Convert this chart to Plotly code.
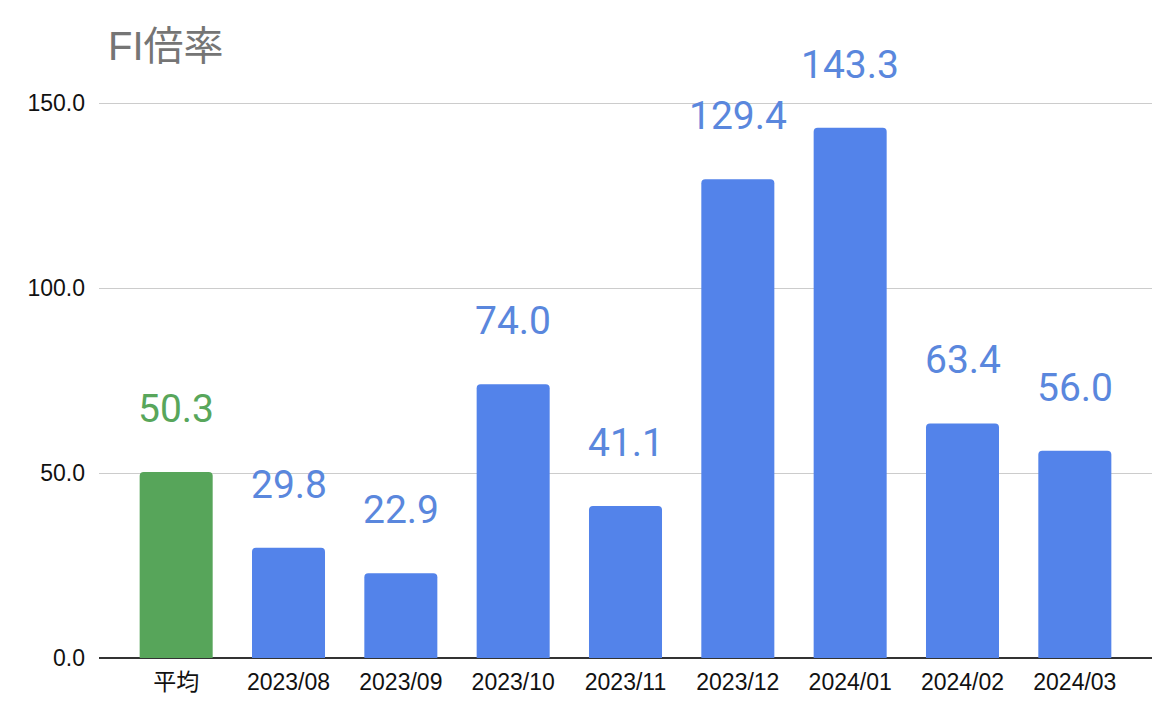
import plotly.graph_objects as go

categories = ["平均", "2023/08", "2023/09", "2023/10", "2023/11", "2023/12", "2024/01", "2024/02", "2024/03"]
values = [50.3, 29.8, 22.9, 74.0, 41.1, 129.4, 143.3, 63.4, 56.0]
y_ticks = [0, 50, 100, 150]
y_tick_labels = ["0.0", "50.0", "100.0", "150.0"]

BLUE = "#5383EA"
GREEN = "#57A55A"
bar_colors = [GREEN if c == "平均" else BLUE for c in categories]
label_colors = ["#58A65B" if c == "平均" else "#5A87DD" for c in categories]

# page body has an 8px margin; compensate so the plot sits where the reference has it
OFF = 8

fig = go.Figure()
fig.add_trace(go.Bar(
    x=categories, y=values,
    marker=dict(color=bar_colors, line=dict(width=0), cornerradius=4),
    width=0.65,
    hoverinfo="skip",
))

for c, v, col in zip(categories, values, label_colors):
    fig.add_annotation(
        x=c, y=v, xref="x", yref="y",
        text=f"{v:.1f}", showarrow=False,
        yanchor="bottom", yshift=38,
        font=dict(family="Roboto, Arial, sans-serif", size=39, color=col),
    )

fig.update_layout(
    width=1176, height=718,
    margin=dict(l=99 - OFF, r=24 + OFF, t=66 - OFF, b=60 + OFF),
    paper_bgcolor="white", plot_bgcolor="white",
    showlegend=False,
    title=dict(
        text="FI倍率",
        x=(108 - OFF) / 1176, xanchor="left", xref="container",
        y=1 - (46 - OFF) / 718, yanchor="middle", yref="container",
        font=dict(family="Arial, 'Noto Sans CJK JP', sans-serif", size=40, color="#757575"),
    ),
    font=dict(family="Arial, 'Noto Sans CJK JP', sans-serif", size=23, color="#111111"),
)

fig.update_xaxes(
    type="category",
    range=[-0.687, 8.687],
    showgrid=False,
    showline=False,
    zeroline=False,
    ticks="",
    ticklabelstandoff=8,
    tickfont=dict(family="Arial, 'Noto Sans CJK JP', sans-serif", size=23, color="#111111"),
)
fig.update_yaxes(
    range=[0, 160],
    tickvals=y_ticks, ticktext=y_tick_labels,
    showgrid=True, gridcolor="#CCCCCC", gridwidth=1,
    zeroline=True, zerolinecolor="#333333", zerolinewidth=2,
    showline=False, ticks="",
    ticklabelstandoff=13,
    tickfont=dict(family="Arial, sans-serif", size=23, color="#111111"),
)

fig.write_html("out.html")
